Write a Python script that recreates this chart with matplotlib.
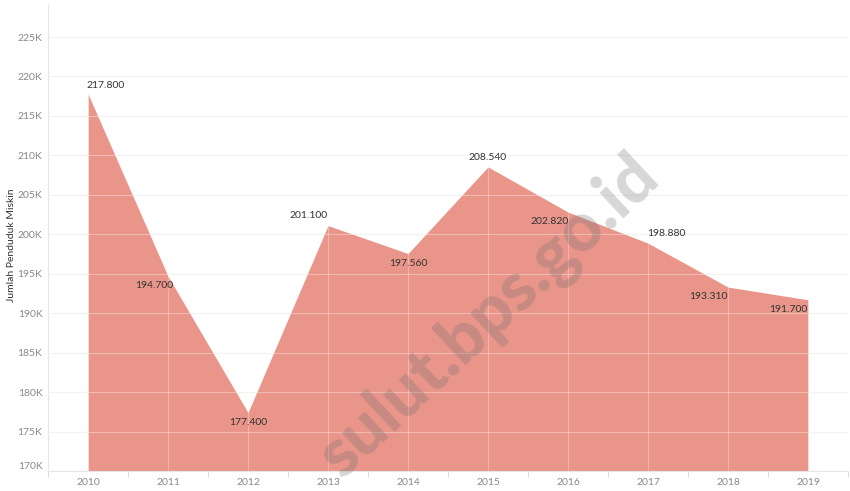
import matplotlib.pyplot as plt
import numpy as np

# data
years = [2010, 2011, 2012, 2013, 2014, 2015, 2016, 2017, 2018, 2019]
miskin = [217800, 194700, 177400, 201100, 197560, 208540, 202820, 198880, 193310, 191700]
labels = ['217.800', '194.700', '177.400', '201.100', '197.560',
          '208.540', '202.820', '198.880', '193.310', '191.700']
yticks = [170000, 175000, 180000, 185000, 190000, 195000, 200000, 205000, 210000, 215000, 220000, 225000]
ytick_labels = ['170K', '175K', '180K', '185K', '190K', '195K', '200K', '205K', '210K', '215K', '220K', '225K']

# label offsets (points) relative to each point
offsets = [(13, 6), (-10, -7), (0, -7), (-14, 7), (0, -7),
           (0, 7), (-13, -7), (13, 7), (-14, -7), (-14, -7)]

plt.rcParams['font.family'] = ['Lato', 'DejaVu Sans']

fig = plt.figure(figsize=(8.5, 4.91), dpi=100)
ax = fig.add_axes([48/850, 20/491, 800/850, 466/491])

x = np.arange(len(years))
ymin, ymax = 170000, 229060

## gridlines under the area
for t in yticks:
    ax.axhline(t, color='#ececec', linewidth=0.8, zorder=1)

ax.fill_between(x, ymin, miskin, color='#e9958a', linewidth=0, zorder=2)

## lighter gridlines over the area
for t in yticks:
    ax.axhline(t, color='white', linewidth=0.8, alpha=0.35, zorder=3)
for xi in x:
    ax.axvline(xi, color='white', linewidth=0.8, alpha=0.3, zorder=3)

for xi, yi, lab, off in zip(x, miskin, labels, offsets):
    ax.annotate(lab, (xi, yi), xytext=off, textcoords='offset points',
                ha='center', va='center', fontsize=7.5, color='#333333', zorder=5)

## watermark
ax.text(0.552, 0.33, 'sulut.bps.go.id', transform=ax.transAxes, rotation=43,
        fontsize=49, fontweight='black', color='#707070', alpha=0.28,
        ha='center', va='center', zorder=4)

ax.set_xlim(-0.5, len(years) - 0.5)
ax.set_ylim(ymin, ymax)
ax.set_yticks(yticks)
ax.set_yticklabels(ytick_labels)
ax.get_yticklabels()[0].set_va('bottom')
ax.set_xticks(x)
ax.set_xticklabels([str(y) for y in years])
ax.set_xticks(np.arange(-0.5, len(years)), minor=True)
ax.tick_params(axis='x', which='major', length=0, labelsize=7.5, labelcolor='#888888', pad=5)
ax.tick_params(axis='x', which='minor', length=4, color='#dddddd', width=0.8)
ax.tick_params(axis='y', length=0, labelsize=7.5, labelcolor='#888888', pad=4)

for side in ['top', 'right']:
    ax.spines[side].set_visible(False)
ax.spines['left'].set_color('#e6e6e6')
ax.spines['bottom'].set_color('#e6e6e6')
ax.spines['left'].set_linewidth(0.8)
ax.spines['bottom'].set_linewidth(0.8)

fig.text(12/850, 0.5, 'Jumlah Penduduk Miskin', rotation=90, fontsize=7.5,
         color='#333333', ha='center', va='center')

fig.savefig('out.png', dpi=100)
